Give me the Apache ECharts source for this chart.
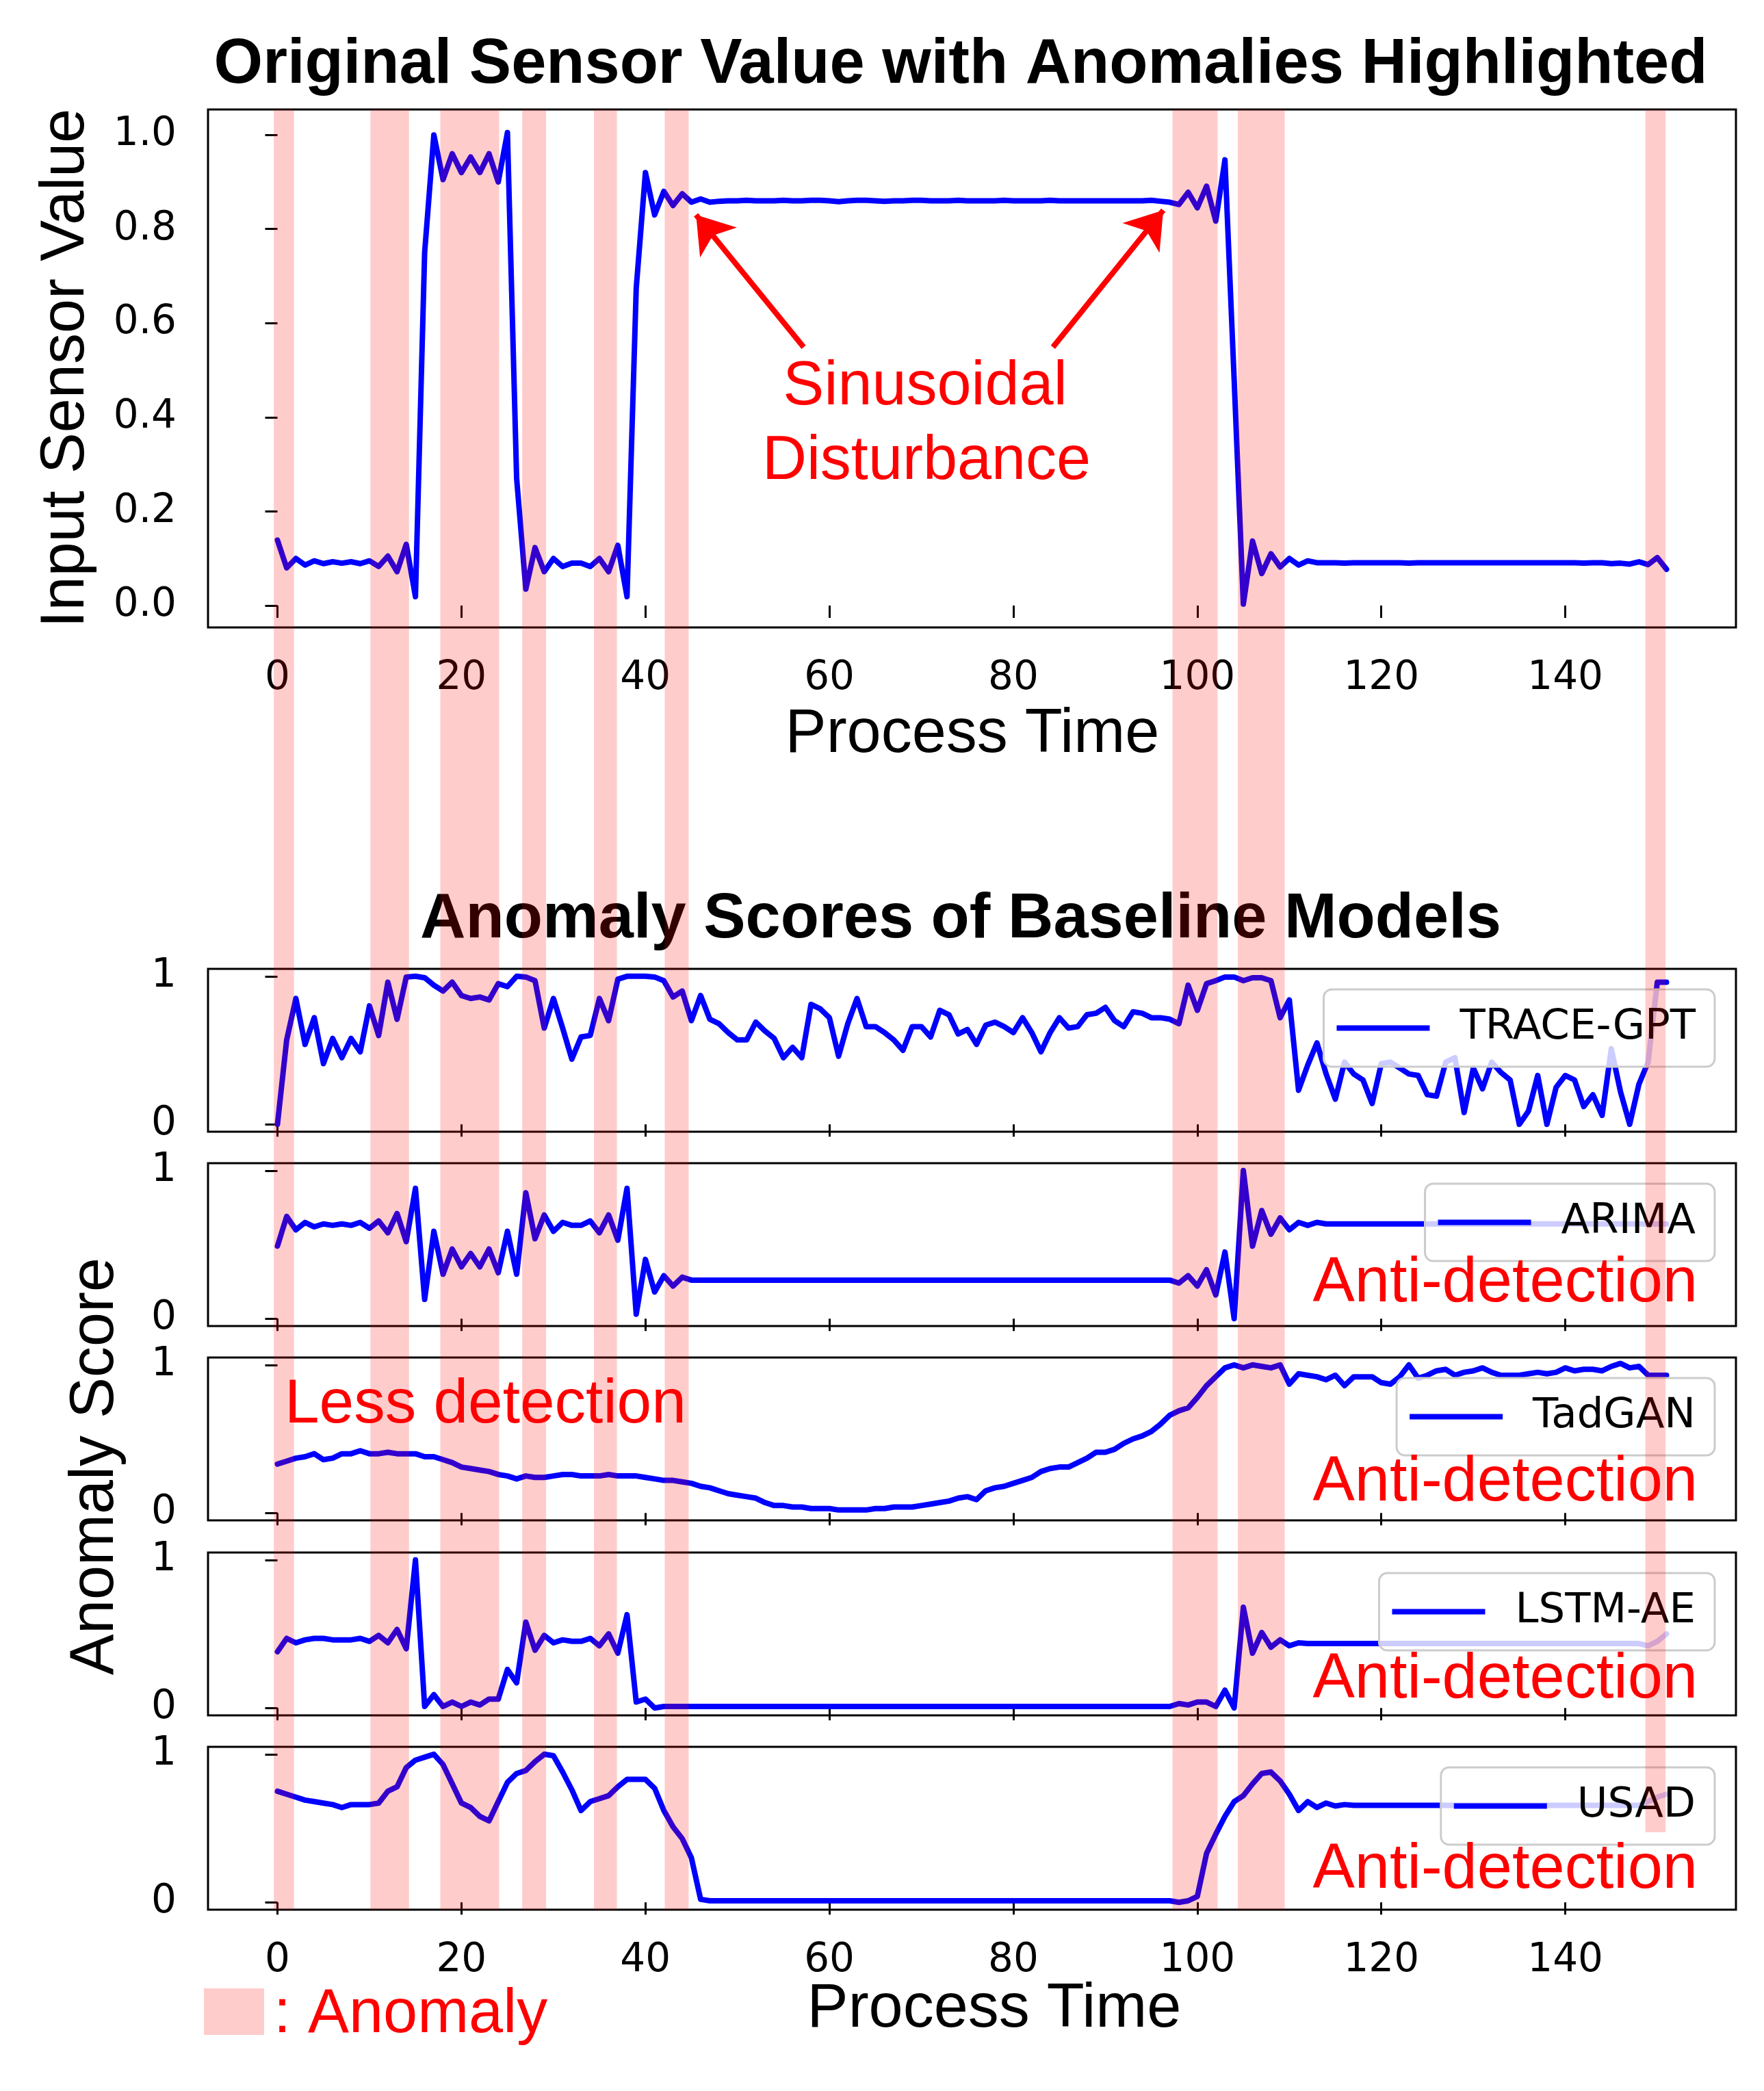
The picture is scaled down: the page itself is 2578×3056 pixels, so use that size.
<!DOCTYPE html>
<html>
<head>
<meta charset="utf-8">
<script src="https://cdn.jsdelivr.net/npm/echarts@6.0.0/dist/echarts.min.js"></script>
<style>
  html, body { margin: 0; padding: 0; background: #fff; }
  #chart { width: 2578px; height: 3056px; }
</style>
</head>
<body>
<div id="chart"></div>
<script>
// process time axis ticks
const timeTicks = [0, 20, 40, 60, 80, 100, 120, 140];
const sensorTicks = [0, 0.2, 0.4, 0.6, 0.8, 1.0];
const scoreTicks = [0, 1];

// original sensor value, one value per process time step (0..151)
const sensorValue = [
  0.139, 0.080, 0.100, 0.086, 0.095, 0.089, 0.093, 0.090, 0.093, 0.089,
  0.095, 0.083, 0.105, 0.072, 0.130, 0.019, 0.750, 1.000, 0.905, 0.960,
  0.920, 0.953, 0.920, 0.960, 0.900, 1.005, 0.270, 0.035, 0.123, 0.072,
  0.100, 0.083, 0.090, 0.090, 0.083, 0.100, 0.072, 0.128, 0.019, 0.674,
  0.920, 0.830, 0.880, 0.850, 0.875, 0.857, 0.864, 0.857, 0.859, 0.860,
  0.860, 0.861, 0.860, 0.860, 0.860, 0.861, 0.860, 0.860, 0.861, 0.861,
  0.860, 0.858, 0.860, 0.861, 0.861, 0.860, 0.859, 0.860, 0.860, 0.861,
  0.861, 0.860, 0.860, 0.860, 0.861, 0.860, 0.860, 0.860, 0.860, 0.861,
  0.860, 0.860, 0.860, 0.860, 0.861, 0.860, 0.860, 0.860, 0.860, 0.860,
  0.860, 0.860, 0.860, 0.860, 0.860, 0.861, 0.859, 0.857, 0.852, 0.878,
  0.845, 0.891, 0.817, 0.947, 0.480, 0.003, 0.137, 0.068, 0.110, 0.082,
  0.100, 0.086, 0.095, 0.091, 0.091, 0.091, 0.090, 0.091, 0.091, 0.091,
  0.091, 0.091, 0.091, 0.090, 0.091, 0.091, 0.091, 0.091, 0.091, 0.091,
  0.091, 0.091, 0.091, 0.091, 0.091, 0.091, 0.091, 0.091, 0.091, 0.091,
  0.091, 0.091, 0.090, 0.091, 0.091, 0.089, 0.090, 0.088, 0.093, 0.087,
  0.102, 0.077
];

const traceGpt = [
  0.00, 0.57, 0.85, 0.54, 0.72, 0.41, 0.58, 0.45, 0.58, 0.49,
  0.80, 0.60, 0.96, 0.71, 0.995, 1.00, 0.99, 0.94, 0.90, 0.96,
  0.87, 0.85, 0.86, 0.84, 0.95, 0.93, 1.00, 0.995, 0.97, 0.65,
  0.85, 0.65, 0.44, 0.59, 0.60, 0.85, 0.70, 0.98, 1.00, 1.00,
  1.00, 0.995, 0.97, 0.86, 0.90, 0.70, 0.87, 0.71, 0.68, 0.62,
  0.57, 0.57, 0.69, 0.63, 0.58, 0.45, 0.52, 0.45, 0.81, 0.78,
  0.72, 0.46, 0.68, 0.85, 0.66, 0.66, 0.62, 0.57, 0.50, 0.66,
  0.66, 0.59, 0.77, 0.74, 0.61, 0.64, 0.54, 0.67, 0.69, 0.66,
  0.62, 0.72, 0.62, 0.49, 0.62, 0.72, 0.65, 0.66, 0.74, 0.75,
  0.79, 0.70, 0.66, 0.76, 0.75, 0.72, 0.72, 0.71, 0.68, 0.94,
  0.77, 0.95, 0.97, 0.995, 0.995, 0.97, 0.99, 0.99, 0.97, 0.72,
  0.84, 0.23, 0.40, 0.55, 0.34, 0.17, 0.42, 0.34, 0.30, 0.14,
  0.41, 0.42, 0.38, 0.34, 0.33, 0.20, 0.19, 0.42, 0.45, 0.08,
  0.38, 0.24, 0.42, 0.35, 0.30, 0.00, 0.09, 0.33, 0.00, 0.25,
  0.33, 0.30, 0.12, 0.20, 0.06, 0.51, 0.22, 0.00, 0.27, 0.42,
  0.96, 0.96
];

const arima = [
  0.49, 0.69, 0.60, 0.65, 0.62, 0.64, 0.63, 0.64, 0.63, 0.65,
  0.61, 0.66, 0.58, 0.71, 0.52, 0.88, 0.13, 0.59, 0.30, 0.47,
  0.35, 0.44, 0.35, 0.47, 0.31, 0.59, 0.30, 0.85, 0.54, 0.70,
  0.59, 0.65, 0.63, 0.63, 0.66, 0.58, 0.70, 0.53, 0.88, 0.03,
  0.40, 0.18, 0.29, 0.22, 0.28, 0.26, 0.26, 0.26, 0.26, 0.26,
  0.26, 0.26, 0.26, 0.26, 0.26, 0.26, 0.26, 0.26, 0.26, 0.26,
  0.26, 0.26, 0.26, 0.26, 0.26, 0.26, 0.26, 0.26, 0.26, 0.26,
  0.26, 0.26, 0.26, 0.26, 0.26, 0.26, 0.26, 0.26, 0.26, 0.26,
  0.26, 0.26, 0.26, 0.26, 0.26, 0.26, 0.26, 0.26, 0.26, 0.26,
  0.26, 0.26, 0.26, 0.26, 0.26, 0.26, 0.26, 0.26, 0.24, 0.29,
  0.22, 0.33, 0.16, 0.45, 0.00, 1.00, 0.49, 0.73, 0.57, 0.68,
  0.60, 0.65, 0.63, 0.65, 0.64, 0.64, 0.64, 0.64, 0.64, 0.64,
  0.64, 0.64, 0.64, 0.64, 0.64, 0.64, 0.64, 0.64, 0.64, 0.64,
  0.64, 0.64, 0.64, 0.64, 0.64, 0.64, 0.64, 0.64, 0.64, 0.64,
  0.64, 0.64, 0.64, 0.64, 0.64, 0.64, 0.64, 0.64, 0.64, 0.64,
  0.64, 0.64
];

const tadGan = [
  0.33, 0.35, 0.37, 0.38, 0.40, 0.36, 0.37, 0.40, 0.40, 0.42,
  0.40, 0.40, 0.41, 0.40, 0.40, 0.40, 0.38, 0.38, 0.36, 0.34,
  0.31, 0.30, 0.29, 0.28, 0.26, 0.25, 0.23, 0.25, 0.24, 0.24,
  0.25, 0.26, 0.26, 0.25, 0.25, 0.25, 0.26, 0.25, 0.25, 0.25,
  0.24, 0.23, 0.22, 0.22, 0.21, 0.20, 0.18, 0.17, 0.15, 0.13,
  0.12, 0.11, 0.10, 0.07, 0.05, 0.05, 0.04, 0.04, 0.03, 0.03,
  0.03, 0.02, 0.02, 0.02, 0.02, 0.03, 0.03, 0.04, 0.04, 0.04,
  0.05, 0.06, 0.07, 0.08, 0.10, 0.11, 0.09, 0.15, 0.17, 0.18,
  0.20, 0.22, 0.24, 0.28, 0.30, 0.31, 0.31, 0.34, 0.37, 0.41,
  0.41, 0.43, 0.47, 0.50, 0.52, 0.55, 0.60, 0.66, 0.69, 0.71,
  0.78, 0.86, 0.92, 0.98, 1.00, 0.98, 1.00, 0.99, 0.98, 1.00,
  0.87, 0.94, 0.93, 0.92, 0.90, 0.93, 0.86, 0.92, 0.92, 0.92,
  0.88, 0.87, 0.92, 1.00, 0.91, 0.93, 0.96, 0.97, 0.93, 0.95,
  0.96, 0.98, 0.95, 0.93, 0.93, 0.93, 0.94, 0.95, 0.94, 0.95,
  0.98, 0.96, 0.97, 0.97, 0.96, 0.99, 1.01, 0.98, 0.99, 0.93,
  0.93, 0.93
];

const lstmAe = [
  0.38, 0.47, 0.44, 0.46, 0.47, 0.47, 0.46, 0.46, 0.46, 0.47,
  0.45, 0.49, 0.44, 0.53, 0.40, 1.00, 0.01, 0.09, 0.01, 0.04,
  0.01, 0.04, 0.02, 0.06, 0.06, 0.26, 0.17, 0.58, 0.39, 0.49,
  0.44, 0.46, 0.45, 0.45, 0.47, 0.42, 0.50, 0.37, 0.63, 0.04,
  0.06, 0.00, 0.01, 0.01, 0.01, 0.01, 0.01, 0.01, 0.01, 0.01,
  0.01, 0.01, 0.01, 0.01, 0.01, 0.01, 0.01, 0.01, 0.01, 0.01,
  0.01, 0.01, 0.01, 0.01, 0.01, 0.01, 0.01, 0.01, 0.01, 0.01,
  0.01, 0.01, 0.01, 0.01, 0.01, 0.01, 0.01, 0.01, 0.01, 0.01,
  0.01, 0.01, 0.01, 0.01, 0.01, 0.01, 0.01, 0.01, 0.01, 0.01,
  0.01, 0.01, 0.01, 0.01, 0.01, 0.01, 0.01, 0.01, 0.03, 0.02,
  0.04, 0.04, 0.01, 0.12, 0.00, 0.68, 0.37, 0.51, 0.41, 0.46,
  0.42, 0.44, 0.435, 0.435, 0.435, 0.435, 0.435, 0.435, 0.435, 0.435,
  0.435, 0.435, 0.435, 0.435, 0.435, 0.435, 0.435, 0.435, 0.435, 0.435,
  0.435, 0.435, 0.435, 0.435, 0.435, 0.435, 0.435, 0.435, 0.435, 0.435,
  0.435, 0.435, 0.435, 0.435, 0.435, 0.435, 0.435, 0.435, 0.435, 0.42,
  0.45, 0.50
];

const usad = [
  0.75, 0.73, 0.71, 0.69, 0.68, 0.67, 0.66, 0.64, 0.66, 0.66,
  0.66, 0.67, 0.75, 0.78, 0.91, 0.96, 0.98, 1.00, 0.93, 0.80,
  0.67, 0.64, 0.58, 0.55, 0.68, 0.81, 0.87, 0.89, 0.95, 1.00,
  0.99, 0.88, 0.76, 0.62, 0.68, 0.70, 0.72, 0.78, 0.83, 0.83,
  0.83, 0.77, 0.62, 0.51, 0.43, 0.30, 0.02, 0.01, 0.01, 0.01,
  0.01, 0.01, 0.01, 0.01, 0.01, 0.01, 0.01, 0.01, 0.01, 0.01,
  0.01, 0.01, 0.01, 0.01, 0.01, 0.01, 0.01, 0.01, 0.01, 0.01,
  0.01, 0.01, 0.01, 0.01, 0.01, 0.01, 0.01, 0.01, 0.01, 0.01,
  0.01, 0.01, 0.01, 0.01, 0.01, 0.01, 0.01, 0.01, 0.01, 0.01,
  0.01, 0.01, 0.01, 0.01, 0.01, 0.01, 0.01, 0.01, 0.00, 0.01,
  0.04, 0.33, 0.46, 0.58, 0.68, 0.72, 0.80, 0.87, 0.88, 0.82,
  0.73, 0.62, 0.68, 0.64, 0.67, 0.65, 0.66, 0.655, 0.655, 0.655,
  0.655, 0.655, 0.655, 0.655, 0.655, 0.655, 0.655, 0.655, 0.655, 0.655,
  0.655, 0.655, 0.655, 0.655, 0.655, 0.655, 0.655, 0.655, 0.655, 0.655,
  0.655, 0.655, 0.655, 0.655, 0.655, 0.655, 0.655, 0.655, 0.655, 0.68,
  0.71, 0.73
];

const modelNames = ['TRACE-GPT', 'ARIMA', 'TadGAN', 'LSTM-AE', 'USAD'];
const modelScores = [traceGpt, arima, tadGan, lstmAe, usad];

// anomaly intervals (process time), last one stops short of the bottom
const bandStart = [-0.4, 10.1, 17.7, 26.6, 34.4, 42.1, 97.3, 104.4, 148.7];
const bandEnd   = [1.8, 14.3, 24.1, 29.2, 36.9, 44.7, 102.2, 109.5, 150.9];
const bandFloor = [0, 0, 0, 0, 0, 0, 0, 0, 0.043];

// annotation arrows: [tailX, tailY, headX, headY] in sensor plot units
const arrowLeft = [57.2, 0.549, 45.5, 0.83];
const arrowRight = [84.3, 0.549, 96.3, 0.84];

const X_MIN = -7.55, X_MAX = 158.55;
const LEFT = 304, RIGHT = 41;
const panelTops = [1416, 1700, 1984, 2269, 2553];
const PANEL_H = 238;

const ARIAL = '"Liberation Sans", Arial, sans-serif';
const DEJAVU = '"DejaVu Sans", sans-serif';

const toPairs = arr => arr.map((v, i) => [i, v]);

const xAxisBase = (gridIndex, showLabels) => ({
  type: 'value', gridIndex, min: X_MIN, max: X_MAX,
  axisLine: { show: false },
  splitLine: { show: false },
  axisTick: { show: true, inside: false, length: 18, customValues: timeTicks,
    lineStyle: { color: '#000', width: 3 } },
  axisLabel: { show: showLabels, customValues: timeTicks, margin: 46,
    fontSize: 58, fontFamily: DEJAVU, color: '#000' }
});

const yAxisBase = (gridIndex, min, max, ticks, fmt) => ({
  type: 'value', gridIndex, min, max,
  axisLine: { show: false },
  splitLine: { show: false },
  axisTick: { show: true, inside: false, length: 18, customValues: ticks,
    lineStyle: { color: '#000', width: 3 } },
  axisLabel: { show: true, customValues: ticks, margin: 46, formatter: fmt,
    fontSize: 58, fontFamily: DEJAVU, color: '#000' }
});

const frame = { show: true, borderColor: '#000', borderWidth: 3, backgroundColor: 'transparent' };

const grids = [
  Object.assign({ left: LEFT, right: RIGHT, top: 160, height: 757 }, frame)
];
panelTops.forEach(t => grids.push(Object.assign({ left: LEFT, right: RIGHT, top: t, height: PANEL_H }, frame)));
// overlay grid for the anomaly bands across the whole figure
grids.push({ left: LEFT, right: RIGHT, top: 160, height: 2631, show: false });

const xAxes = [xAxisBase(0, true)];
panelTops.forEach((t, i) => xAxes.push(xAxisBase(i + 1, i === 4)));
xAxes.push({ type: 'value', gridIndex: 6, min: X_MIN, max: X_MAX, show: false });

const yAxes = [yAxisBase(0, -0.0465, 1.054, sensorTicks, v => v.toFixed(1))];
panelTops.forEach((t, i) => yAxes.push(yAxisBase(i + 1, -0.05, 1.05, scoreTicks, v => String(v))));
yAxes.push({ type: 'value', gridIndex: 6, min: 0, max: 1, show: false });

const lineStyle = { color: '#0000ff', width: 8, cap: 'round', join: 'round' };

const series = [{
  name: 'Sensor', type: 'line', xAxisIndex: 0, yAxisIndex: 0,
  data: toPairs(sensorValue), showSymbol: false, symbol: 'none',
  lineStyle, itemStyle: { color: '#0000ff' }, z: 2,
  markLine: {
    silent: true, symbol: ['none', 'arrow'], symbolSize: 52,
    label: { show: false },
    lineStyle: { color: '#ff0000', width: 8, type: 'solid' },
    data: [arrowLeft, arrowRight].map(a => [{ coord: [a[0], a[1]] }, { coord: [a[2], a[3]] }])
  }
}];
modelNames.forEach((name, i) => {
  series.push({
    name, type: 'line', xAxisIndex: i + 1, yAxisIndex: i + 1,
    data: toPairs(modelScores[i]), showSymbol: false, symbol: 'none',
    lineStyle, itemStyle: { color: '#0000ff' }, z: 2
  });
});
series.push({
  type: 'custom', xAxisIndex: 6, yAxisIndex: 6, z: 30, silent: true,
  data: bandStart.map((s, i) => [s, bandEnd[i], bandFloor[i]]),
  encode: { x: [0, 1] },
  renderItem: (params, api) => {
    const p0 = api.coord([api.value(0), 1]);
    const p1 = api.coord([api.value(1), api.value(2)]);
    return {
      type: 'rect',
      shape: { x: p0[0], y: p0[1], width: p1[0] - p0[0], height: p1[1] - p0[1] },
      style: { fill: 'rgba(255,0,0,0.2)' }
    };
  }
});

const legends = modelNames.map((name, i) => ({
  data: [name], selectedMode: false,
  right: 72, top: panelTops[i] + 30,
  icon: 'rect', itemWidth: 136, itemHeight: 8,
  padding: [26, 28, 26, 19],
  backgroundColor: 'rgba(255,255,255,0.8)',
  borderColor: '#cccccc', borderWidth: 3, borderRadius: 12,
  textStyle: { fontSize: 61, lineHeight: 61, fontFamily: DEJAVU, color: '#000', padding: [0, 0, 0, 39] }
}));

const txt = (text, x, y, size, opts = {}) => ({
  type: 'text', x, y, z: 10, rotation: opts.rotation || 0,
  style: {
    text, fill: opts.color || '#000',
    font: (opts.bold ? 'bold ' : '') + size + 'px ' + ARIAL,
    align: opts.align || 'center', verticalAlign: 'middle'
  }
});

const graphics = [
  txt('Original Sensor Value with Anomalies Highlighted', 1404, 96, 92, { bold: true }),
  txt('Anomaly Scores of Baseline Models', 1404, 1345, 92, { bold: true }),
  txt('Input Sensor Value', 97, 538, 90, { rotation: Math.PI / 2 }),
  txt('Anomaly Score', 140, 2143, 90, { rotation: Math.PI / 2 }),
  txt('Process Time', 1421, 1074, 90),
  txt('Process Time', 1453, 2937, 90),
  txt('Sinusoidal', 1352, 566, 90, { color: '#ff0000' }),
  txt('Disturbance', 1354, 675, 90, { color: '#ff0000' }),
  txt('Less detection', 416, 2054, 91, { color: '#ff0000', align: 'left' }),
  txt('Anti-detection', 2481, 1877, 92, { color: '#ff0000', align: 'right' }),
  txt('Anti-detection', 2481, 2168, 92, { color: '#ff0000', align: 'right' }),
  txt('Anti-detection', 2481, 2456, 92, { color: '#ff0000', align: 'right' }),
  txt('Anti-detection', 2481, 2734, 92, { color: '#ff0000', align: 'right' }),
  { type: 'rect', shape: { x: 298, y: 2906, width: 88, height: 68 }, style: { fill: 'rgba(255,0,0,0.2)' }, z: 10 },
  txt(': Anomaly', 400, 2945, 90, { color: '#ff0000', align: 'left' })
];

const chart = echarts.init(document.getElementById('chart'));
chart.setOption({
  animation: false,
  backgroundColor: '#ffffff',
  grid: grids,
  xAxis: xAxes,
  yAxis: yAxes,
  legend: legends,
  series,
  graphic: graphics
});
</script>
</body>
</html>
